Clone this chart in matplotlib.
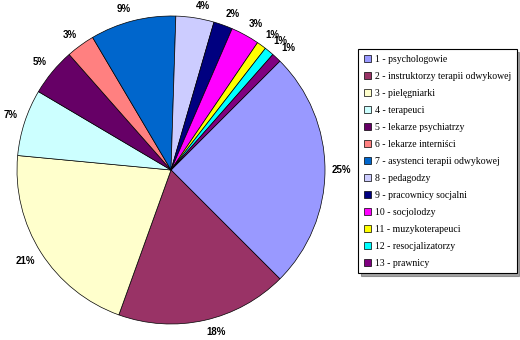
import numpy as np
import matplotlib
matplotlib.use('Agg')
import matplotlib.pyplot as plt

# kategorie i udziały (%)
kategorie = ['1 - psychologowie', '2 - instruktorzy terapii odwykowej', '3 - pielęgniarki',
             '4 - terapeuci', '5 - lekarze psychiatrzy', '6 - lekarze interniści',
             '7 - asystenci terapii odwykowej', '8 - pedagodzy', '9 - pracownicy socjalni',
             '10 - socjolodzy', '11 - muzykoterapeuci', '12 - resocjalizatorzy', '13 - prawnicy']
udzialy = [25, 18, 21, 7, 5, 3, 9, 4, 2, 3, 1, 1, 1]
kolory = ['#9999FF', '#993366', '#FFFFCC', '#CCFFFF', '#660066', '#FF8080', '#0066CC',
          '#CCCCFF', '#000080', '#FF00FF', '#FFFF00', '#00FFFF', '#800080']

fig = plt.figure(figsize=(5.2, 3.4), dpi=100)
ax = fig.add_axes([17/520, 16/340, 308/520, 308/340])

klin, _, teksty = ax.pie(udzialy, colors=kolory, startangle=45, counterclock=False,
                         autopct='%1.0f%%', pctdistance=1.045,
                         wedgeprops=dict(edgecolor='black', linewidth=0.5))
# etykiety jak w Excelu: zaczepione przy krawędzi koła
for t in teksty:
    t.set_fontsize(7)
    t.set_fontweight('bold')
    t.set_family('Liberation Sans')
    x, y = t.get_position()
    kat = np.arctan2(y, x)
    c, s = np.cos(kat), np.sin(kat)
    t.set_ha('left' if c > 0.15 else ('right' if c < -0.15 else 'center'))
    t.set_va('bottom' if s > 0.3 else ('top' if s < -0.3 else 'center'))
ax.set_xlim(-1, 1)
ax.set_ylim(-1, 1)
ax.set_aspect('equal')

leg = fig.legend(klin, kategorie, loc='upper left', bbox_to_anchor=(358/520, 1 - 49/340),
                 prop={'family': 'Liberation Serif', 'size': 7}, fancybox=False, shadow=True,
                 handlelength=0.7, handleheight=0.7, handletextpad=0.4, labelspacing=0.82,
                 borderpad=0.6, borderaxespad=0)
leg.get_frame().set_edgecolor('black')
leg.get_frame().set_linewidth(0.8)

fig.savefig('out.png', dpi=100)
